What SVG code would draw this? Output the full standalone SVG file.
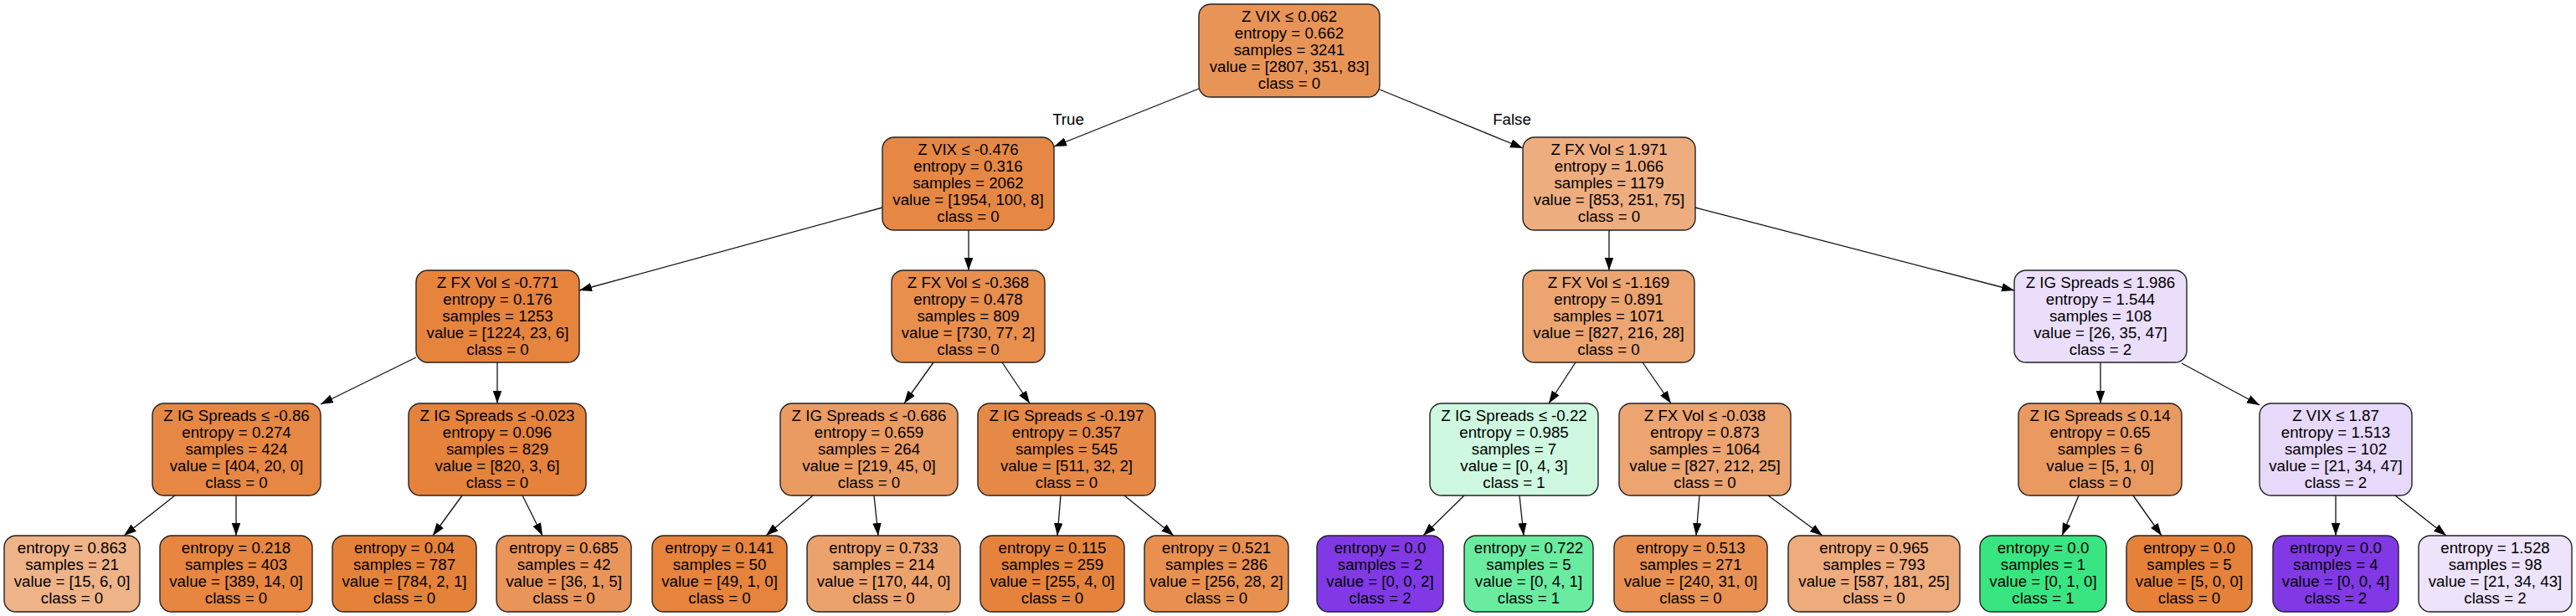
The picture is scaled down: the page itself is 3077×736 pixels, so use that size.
<svg xmlns="http://www.w3.org/2000/svg" width="3077" height="736" viewBox="0 0 3077 736">
<style>
.n rect{stroke:#222;stroke-width:1.4}
text{font-family:"Liberation Sans",Arial,sans-serif;font-size:18.7px;text-anchor:middle;fill:#000}
.e path{stroke:#111;stroke-width:1.3;fill:none;marker-end:url(#ah)}
</style>
<defs>
<marker id="ah" markerUnits="userSpaceOnUse" markerWidth="16" markerHeight="12" refX="15" refY="5.25" orient="auto">
<path d="M0,0 L15,5.25 L0,10.5 Z" fill="#000"/>
</marker>
</defs>
<rect width="3077" height="736" fill="#fff"/>
<g id="edges" class="e">
<path d="M1432,106 L1259,175"/>
<path d="M1648,107 L1819,177"/>
<path d="M1054,248 L692,347"/>
<path d="M1157,275 L1157,323"/>
<path d="M1922,275 L1922,323"/>
<path d="M2025,248 L2406,347"/>
<path d="M497,427 L383,483"/>
<path d="M594,433 L594,482"/>
<path d="M1115,433 L1080,482"/>
<path d="M1197,433 L1230,482"/>
<path d="M1882,433 L1850,482"/>
<path d="M1962,433 L1996,482"/>
<path d="M2509,433 L2509,482"/>
<path d="M2606,434 L2699,484"/>
<path d="M209,592 L148,640"/>
<path d="M282,592 L282,640"/>
<path d="M552,592 L517,640"/>
<path d="M624,592 L648,640"/>
<path d="M971,592 L915,640"/>
<path d="M1044,592 L1049,640"/>
<path d="M1267,592 L1263,640"/>
<path d="M1343,592 L1402,640"/>
<path d="M1749,592 L1700,640"/>
<path d="M1815,592 L1820,640"/>
<path d="M2030,592 L2026,640"/>
<path d="M2112,592 L2177,640"/>
<path d="M2483,592 L2463,640"/>
<path d="M2548,592 L2582,640"/>
<path d="M2790,592 L2790,640"/>
<path d="M2861,592 L2922,640"/>
<text x="1276" y="149">True</text>
<text x="1806" y="149">False</text>
</g>
<g id="n0" class="n"><rect x="1432" y="5" width="216" height="111" rx="14" fill="#e99457"/>
<text><tspan x="1540" y="26">Z VIX ≤ 0.062</tspan><tspan x="1540" y="46">entropy = 0.662</tspan><tspan x="1540" y="66">samples = 3241</tspan><tspan x="1540" y="86">value = [2807, 351, 83]</tspan><tspan x="1540" y="106">class = 0</tspan></text></g>
<g id="n1" class="n"><rect x="1054" y="164" width="205" height="111" rx="14" fill="#e68844"/>
<text><tspan x="1156.5" y="185">Z VIX ≤ -0.476</tspan><tspan x="1156.5" y="205">entropy = 0.316</tspan><tspan x="1156.5" y="225">samples = 2062</tspan><tspan x="1156.5" y="245">value = [1954, 100, 8]</tspan><tspan x="1156.5" y="265">class = 0</tspan></text></g>
<g id="n2" class="n"><rect x="1819" y="164" width="206" height="111" rx="14" fill="#eead7f"/>
<text><tspan x="1922" y="185">Z FX Vol ≤ 1.971</tspan><tspan x="1922" y="205">entropy = 1.066</tspan><tspan x="1922" y="225">samples = 1179</tspan><tspan x="1922" y="245">value = [853, 251, 75]</tspan><tspan x="1922" y="265">class = 0</tspan></text></g>
<g id="n3" class="n"><rect x="497" y="323" width="195" height="110" rx="14" fill="#e6843e"/>
<text><tspan x="594.5" y="343.5">Z FX Vol ≤ -0.771</tspan><tspan x="594.5" y="363.5">entropy = 0.176</tspan><tspan x="594.5" y="383.5">samples = 1253</tspan><tspan x="594.5" y="403.5">value = [1224, 23, 6]</tspan><tspan x="594.5" y="423.5">class = 0</tspan></text></g>
<g id="n4" class="n"><rect x="1065" y="323" width="183" height="110" rx="14" fill="#e88f4e"/>
<text><tspan x="1156.5" y="343.5">Z FX Vol ≤ -0.368</tspan><tspan x="1156.5" y="363.5">entropy = 0.478</tspan><tspan x="1156.5" y="383.5">samples = 809</tspan><tspan x="1156.5" y="403.5">value = [730, 77, 2]</tspan><tspan x="1156.5" y="423.5">class = 0</tspan></text></g>
<g id="n5" class="n"><rect x="1819" y="323" width="205" height="110" rx="14" fill="#eca571"/>
<text><tspan x="1921.5" y="343.5">Z FX Vol ≤ -1.169</tspan><tspan x="1921.5" y="363.5">entropy = 0.891</tspan><tspan x="1921.5" y="383.5">samples = 1071</tspan><tspan x="1921.5" y="403.5">value = [827, 216, 28]</tspan><tspan x="1921.5" y="423.5">class = 0</tspan></text></g>
<g id="n6" class="n"><rect x="2406" y="323" width="206" height="110" rx="14" fill="#eadefb"/>
<text><tspan x="2509" y="343.5">Z IG Spreads ≤ 1.986</tspan><tspan x="2509" y="363.5">entropy = 1.544</tspan><tspan x="2509" y="383.5">samples = 108</tspan><tspan x="2509" y="403.5">value = [26, 35, 47]</tspan><tspan x="2509" y="423.5">class = 2</tspan></text></g>
<g id="n7" class="n"><rect x="182" y="482" width="201" height="110" rx="14" fill="#e68743"/>
<text><tspan x="282.5" y="502.5">Z IG Spreads ≤ -0.86</tspan><tspan x="282.5" y="522.5">entropy = 0.274</tspan><tspan x="282.5" y="542.5">samples = 424</tspan><tspan x="282.5" y="562.5">value = [404, 20, 0]</tspan><tspan x="282.5" y="582.5">class = 0</tspan></text></g>
<g id="n8" class="n"><rect x="488" y="482" width="212" height="110" rx="14" fill="#e5823b"/>
<text><tspan x="594" y="502.5">Z IG Spreads ≤ -0.023</tspan><tspan x="594" y="522.5">entropy = 0.096</tspan><tspan x="594" y="542.5">samples = 829</tspan><tspan x="594" y="562.5">value = [820, 3, 6]</tspan><tspan x="594" y="582.5">class = 0</tspan></text></g>
<g id="n9" class="n"><rect x="932" y="482" width="212" height="110" rx="14" fill="#ea9b62"/>
<text><tspan x="1038" y="502.5">Z IG Spreads ≤ -0.686</tspan><tspan x="1038" y="522.5">entropy = 0.659</tspan><tspan x="1038" y="542.5">samples = 264</tspan><tspan x="1038" y="562.5">value = [219, 45, 0]</tspan><tspan x="1038" y="582.5">class = 0</tspan></text></g>
<g id="n10" class="n"><rect x="1168" y="482" width="212" height="110" rx="14" fill="#e78946"/>
<text><tspan x="1274" y="502.5">Z IG Spreads ≤ -0.197</tspan><tspan x="1274" y="522.5">entropy = 0.357</tspan><tspan x="1274" y="542.5">samples = 545</tspan><tspan x="1274" y="562.5">value = [511, 32, 2]</tspan><tspan x="1274" y="582.5">class = 0</tspan></text></g>
<g id="n11" class="n"><rect x="1708" y="482" width="201" height="110" rx="14" fill="#cef8e0"/>
<text><tspan x="1808.5" y="502.5">Z IG Spreads ≤ -0.22</tspan><tspan x="1808.5" y="522.5">entropy = 0.985</tspan><tspan x="1808.5" y="542.5">samples = 7</tspan><tspan x="1808.5" y="562.5">value = [0, 4, 3]</tspan><tspan x="1808.5" y="582.5">class = 1</tspan></text></g>
<g id="n12" class="n"><rect x="1934" y="482" width="205" height="110" rx="14" fill="#eca470"/>
<text><tspan x="2036.5" y="502.5">Z FX Vol ≤ -0.038</tspan><tspan x="2036.5" y="522.5">entropy = 0.873</tspan><tspan x="2036.5" y="542.5">samples = 1064</tspan><tspan x="2036.5" y="562.5">value = [827, 212, 25]</tspan><tspan x="2036.5" y="582.5">class = 0</tspan></text></g>
<g id="n13" class="n"><rect x="2411" y="482" width="195" height="110" rx="14" fill="#ea9a61"/>
<text><tspan x="2508.5" y="502.5">Z IG Spreads ≤ 0.14</tspan><tspan x="2508.5" y="522.5">entropy = 0.65</tspan><tspan x="2508.5" y="542.5">samples = 6</tspan><tspan x="2508.5" y="562.5">value = [5, 1, 0]</tspan><tspan x="2508.5" y="582.5">class = 0</tspan></text></g>
<g id="n14" class="n"><rect x="2699" y="482" width="182" height="110" rx="14" fill="#e7d9fa"/>
<text><tspan x="2790" y="502.5">Z VIX ≤ 1.87</tspan><tspan x="2790" y="522.5">entropy = 1.513</tspan><tspan x="2790" y="542.5">samples = 102</tspan><tspan x="2790" y="562.5">value = [21, 34, 47]</tspan><tspan x="2790" y="582.5">class = 2</tspan></text></g>
<g id="l1" class="n"><rect x="5" y="640" width="162" height="91" rx="14" fill="#efb388"/>
<text><tspan x="86" y="661">entropy = 0.863</tspan><tspan x="86" y="681">samples = 21</tspan><tspan x="86" y="701">value = [15, 6, 0]</tspan><tspan x="86" y="721">class = 0</tspan></text></g>
<g id="l2" class="n"><rect x="191" y="640" width="182" height="91" rx="14" fill="#e68640"/>
<text><tspan x="282" y="661">entropy = 0.218</tspan><tspan x="282" y="681">samples = 403</tspan><tspan x="282" y="701">value = [389, 14, 0]</tspan><tspan x="282" y="721">class = 0</tspan></text></g>
<g id="l3" class="n"><rect x="397" y="640" width="172" height="91" rx="14" fill="#e5823a"/>
<text><tspan x="483" y="661">entropy = 0.04</tspan><tspan x="483" y="681">samples = 787</tspan><tspan x="483" y="701">value = [784, 2, 1]</tspan><tspan x="483" y="721">class = 0</tspan></text></g>
<g id="l4" class="n"><rect x="593" y="640" width="161" height="91" rx="14" fill="#e99559"/>
<text><tspan x="673.5" y="661">entropy = 0.685</tspan><tspan x="673.5" y="681">samples = 42</tspan><tspan x="673.5" y="701">value = [36, 1, 5]</tspan><tspan x="673.5" y="721">class = 0</tspan></text></g>
<g id="l5" class="n"><rect x="779" y="640" width="161" height="91" rx="14" fill="#e6843d"/>
<text><tspan x="859.5" y="661">entropy = 0.141</tspan><tspan x="859.5" y="681">samples = 50</tspan><tspan x="859.5" y="701">value = [49, 1, 0]</tspan><tspan x="859.5" y="721">class = 0</tspan></text></g>
<g id="l6" class="n"><rect x="964" y="640" width="183" height="91" rx="14" fill="#eca26c"/>
<text><tspan x="1055.5" y="661">entropy = 0.733</tspan><tspan x="1055.5" y="681">samples = 214</tspan><tspan x="1055.5" y="701">value = [170, 44, 0]</tspan><tspan x="1055.5" y="721">class = 0</tspan></text></g>
<g id="l7" class="n"><rect x="1171" y="640" width="172" height="91" rx="14" fill="#e5833c"/>
<text><tspan x="1257" y="661">entropy = 0.115</tspan><tspan x="1257" y="681">samples = 259</tspan><tspan x="1257" y="701">value = [255, 4, 0]</tspan><tspan x="1257" y="721">class = 0</tspan></text></g>
<g id="l8" class="n"><rect x="1367" y="640" width="172" height="91" rx="14" fill="#e89050"/>
<text><tspan x="1453" y="661">entropy = 0.521</tspan><tspan x="1453" y="681">samples = 286</tspan><tspan x="1453" y="701">value = [256, 28, 2]</tspan><tspan x="1453" y="721">class = 0</tspan></text></g>
<g id="l9" class="n"><rect x="1573" y="640" width="151" height="91" rx="14" fill="#8139e5"/>
<text><tspan x="1648.5" y="661">entropy = 0.0</tspan><tspan x="1648.5" y="681">samples = 2</tspan><tspan x="1648.5" y="701">value = [0, 0, 2]</tspan><tspan x="1648.5" y="721">class = 2</tspan></text></g>
<g id="l10" class="n"><rect x="1749" y="640" width="154" height="91" rx="14" fill="#6aeca0"/>
<text><tspan x="1826" y="661">entropy = 0.722</tspan><tspan x="1826" y="681">samples = 5</tspan><tspan x="1826" y="701">value = [0, 4, 1]</tspan><tspan x="1826" y="721">class = 1</tspan></text></g>
<g id="l11" class="n"><rect x="1928" y="640" width="183" height="91" rx="14" fill="#e89152"/>
<text><tspan x="2019.5" y="661">entropy = 0.513</tspan><tspan x="2019.5" y="681">samples = 271</tspan><tspan x="2019.5" y="701">value = [240, 31, 0]</tspan><tspan x="2019.5" y="721">class = 0</tspan></text></g>
<g id="l12" class="n"><rect x="2136" y="640" width="205" height="91" rx="14" fill="#eeab7c"/>
<text><tspan x="2238.5" y="661">entropy = 0.965</tspan><tspan x="2238.5" y="681">samples = 793</tspan><tspan x="2238.5" y="701">value = [587, 181, 25]</tspan><tspan x="2238.5" y="721">class = 0</tspan></text></g>
<g id="l13" class="n"><rect x="2365" y="640" width="151" height="91" rx="14" fill="#39e581"/>
<text><tspan x="2440.5" y="661">entropy = 0.0</tspan><tspan x="2440.5" y="681">samples = 1</tspan><tspan x="2440.5" y="701">value = [0, 1, 0]</tspan><tspan x="2440.5" y="721">class = 1</tspan></text></g>
<g id="l14" class="n"><rect x="2540" y="640" width="150" height="91" rx="14" fill="#e58139"/>
<text><tspan x="2615" y="661">entropy = 0.0</tspan><tspan x="2615" y="681">samples = 5</tspan><tspan x="2615" y="701">value = [5, 0, 0]</tspan><tspan x="2615" y="721">class = 0</tspan></text></g>
<g id="l15" class="n"><rect x="2715" y="640" width="150" height="91" rx="14" fill="#8139e5"/>
<text><tspan x="2790" y="661">entropy = 0.0</tspan><tspan x="2790" y="681">samples = 4</tspan><tspan x="2790" y="701">value = [0, 0, 4]</tspan><tspan x="2790" y="721">class = 2</tspan></text></g>
<g id="l16" class="n"><rect x="2889" y="640" width="183" height="91" rx="14" fill="#ede3fb"/>
<text><tspan x="2980.5" y="661">entropy = 1.528</tspan><tspan x="2980.5" y="681">samples = 98</tspan><tspan x="2980.5" y="701">value = [21, 34, 43]</tspan><tspan x="2980.5" y="721">class = 2</tspan></text></g>
</svg>
